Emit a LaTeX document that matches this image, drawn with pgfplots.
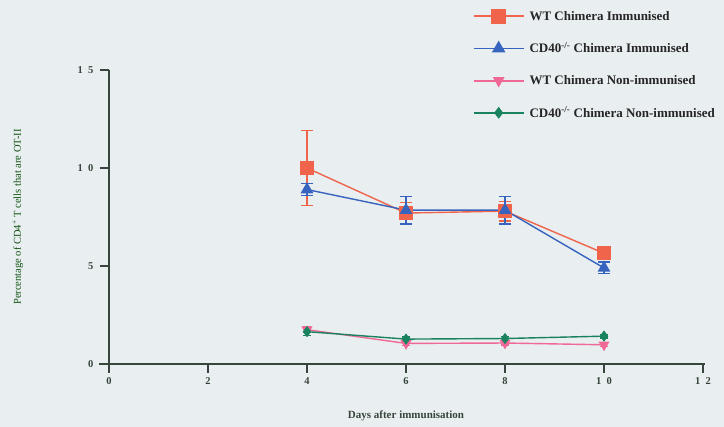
\documentclass[border=0pt]{standalone}
\usepackage{fontspec}
\setmainfont{Liberation Serif}
\usepackage{pgfplots}
\pgfplotsset{compat=1.18}
\definecolor{bg}{RGB}{233,238,240}
\definecolor{axc}{RGB}{55,70,60}
\definecolor{cred}{RGB}{240,100,75}
\definecolor{cblue}{RGB}{55,100,190}
\definecolor{cpink}{RGB}{240,105,150}
\definecolor{cgreen}{RGB}{25,130,95}
\begin{document}
\begin{tikzpicture}
\path[use as bounding box, fill=bg] (-109pt,-63pt) rectangle (615pt,364pt);
\begin{axis}[
  at={(0,0)}, anchor=origin,
  x=49.5pt, y=19.6pt,
  xmin=0, xmax=12.04, ymin=0, ymax=15,
  axis lines=left,
  axis line style={-, axc, line width=1.2pt},
  tick style={axc, line width=1.2pt},
  tick align=outside,
  major tick length=9pt,
  xtick={0,2,4,6,8,10,12},
  xticklabels={0,2,4,6,8,1\enspace0,1\enspace2},
  ytick={0,5,10,15},
  yticklabels={0,5,1\enspace0,1\enspace5},
  tick label style={font=\bfseries\fontsize{10.5}{12}\selectfont, text=axc},
  xticklabel style={yshift=-1pt},
  yticklabel style={xshift=-3pt},
  xlabel={Days after immunisation},
  ylabel={Percentage of CD4\textsuperscript{+} T cells that are OT-II},
  xlabel style={at={(axis cs:6,-2.65)}, anchor=center, font=\bfseries\fontsize{11}{13}\selectfont, text=axc},
  ylabel style={at={(axis cs:-1.84,7.5)}, anchor=center, font=\fontsize{10.5}{12}\selectfont, text=axc!50!green!50!black},
  legend style={at={(rel axis cs:0.605,1.215)}, anchor=north west, draw=none, fill=none,
    font=\bfseries\fontsize{13}{15}\selectfont, row sep=17pt, column sep=3pt, text=black!85},
  legend cell align=left,
  legend image code/.code={%
    \draw[#1, line width=1.8pt, mark repeat=2, mark phase=2] plot coordinates {(0pt,0pt) (25pt,0pt) (50pt,0pt)};},
  clip=false,
]
\draw[axc, line width=1.2pt] (axis cs:-0.2,0) -- (axis cs:0,0);
\draw[axc, line width=1.2pt] (axis cs:0,-0.4) -- (axis cs:0,0);
\addplot[cred, line width=1.4pt, mark=square*, mark size=6.5pt, mark options={solid},
  error bars/.cd, y dir=both, y explicit,
  error bar style={cred, line width=1.3pt},
  error mark options={rotate=90, mark size=6pt, cred, line width=1.3pt}]
coordinates {(4,10.0) +- (0,1.9) (6,7.7) +- (0,0.55) (8,7.8) +- (0,0.5) (10,5.65) +- (0,0.3)};
\addlegendentry{WT Chimera Immunised}
\addplot[cblue, line width=1.4pt, mark=triangle*, mark size=6pt, mark options={solid},
  error bars/.cd, y dir=both, y explicit,
  error bar style={cblue, line width=1.3pt},
  error mark options={rotate=90, mark size=6pt, cblue, line width=1.3pt}]
coordinates {(4,8.9) +- (0,0.3) (6,7.85) +- (0,0.7) (8,7.85) +- (0,0.7) (10,4.9) +- (0,0.3)};
\addlegendentry{CD40\textsuperscript{-/-} Chimera Immunised}
\addplot[cpink, line width=1.4pt, mark=triangle*, mark size=5pt, mark options={solid, rotate=180},
  error bars/.cd, y dir=both, y explicit,
  error bar style={cpink, line width=1.3pt},
  error mark options={rotate=90, mark size=4pt, cpink, line width=1.3pt}]
coordinates {(4,1.75) +- (0,0.15) (6,1.05) +- (0,0.1) (8,1.07) +- (0,0.1) (10,0.98) +- (0,0.1)};
\addlegendentry{WT Chimera Non-immunised}
\addplot[cgreen, line width=1.4pt, mark=diamond*, mark size=4.5pt, mark options={solid},
  error bars/.cd, y dir=both, y explicit,
  error bar style={cgreen, line width=1.3pt},
  error mark options={rotate=90, mark size=4pt, cgreen, line width=1.3pt}]
coordinates {(4,1.65) +- (0,0.2) (6,1.27) +- (0,0.1) (8,1.3) +- (0,0.1) (10,1.42) +- (0,0.1)};
\addlegendentry{CD40\textsuperscript{-/-} Chimera Non-immunised}
\end{axis}
\end{tikzpicture}
\end{document}
